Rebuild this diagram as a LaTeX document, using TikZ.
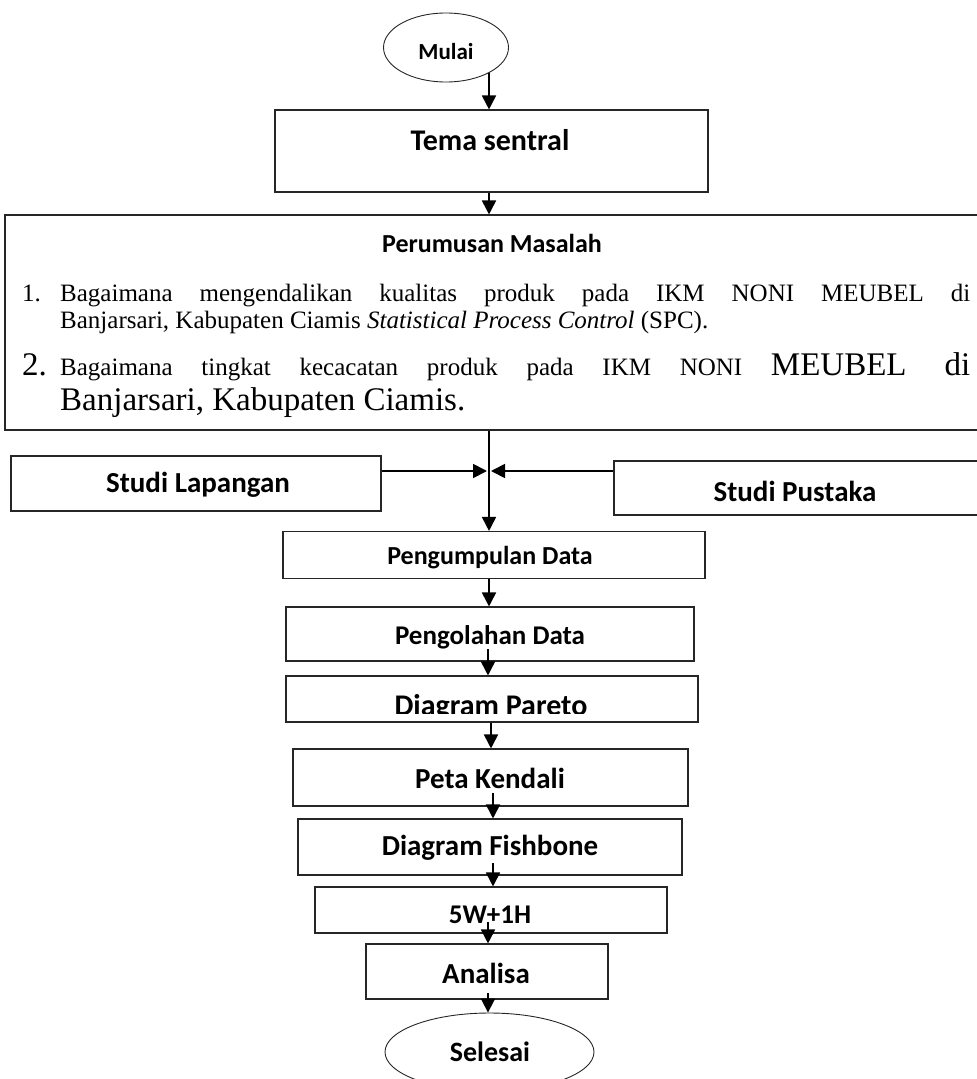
\documentclass[tikz,border=0pt]{standalone}
\usepackage{fontspec}
\setmainfont{Liberation Serif}
\newfontfamily\lab{Carlito}
\usetikzlibrary{arrows.meta,shapes.geometric}
\tikzset{
  boxst/.style={draw=black!85, line width=1.1pt, rectangle, inner sep=0pt},
  ellst/.style={draw=black!85, line width=0.9pt, ellipse, inner sep=0pt},
  arr/.style={-{Triangle[width=14pt,length=14pt]}, line width=1.8pt},
  lbl/.style={font=\lab\bfseries\fontsize{#1}{#1}\selectfont, inner sep=0pt},
  txt/.style={font=\fontsize{#1}{#1}\selectfont, inner sep=0pt, anchor=base west}
}
\begin{document}
\begin{tikzpicture}[x=1pt,y=-1pt]
\useasboundingbox (0,0) rectangle (977,1079);
\clip (0,0) rectangle (977,1079);
% start
\node[ellst, minimum width=125pt, minimum height=69pt] (mulai) at (446,47.5) {};
\node[lbl=23] (mulaitxt) at (446,52) {Mulai};
% tema
\node[boxst, minimum width=433pt, minimum height=82pt] (tema) at (491.5,151) {};
\node[lbl=30] (tematxt) at (490,140) {Tema sentral};
% perumusan
\node[boxst, minimum width=985pt, minimum height=215pt] (perum) at (497.5,322.5) {};
\node[lbl=26] (perumtxt) at (492,243) {Perumusan Masalah};
\node[txt=25] (n1) at (22,301) {1.};
\node[txt=25] (l1) at (60,301) {\makebox[910pt][s]{Bagaimana mengendalikan kualitas produk pada IKM NONI MEUBEL di}};
\node[txt=25] (l2) at (60,328) {Banjarsari, Kabupaten Ciamis \textit{Statistical Process Control} (SPC).};
\node[txt=33] (n2) at (22,375) {2.};
\node[txt=25] (l3) at (60,375) {\makebox[910pt][s]{Bagaimana tingkat kecacatan produk pada IKM NONI {\fontsize{33}{33}\selectfont MEUBEL di}}};
\node[txt=33] (l4) at (60,410) {Banjarsari, Kabupaten Ciamis.};
% studi
\node[boxst, minimum width=370pt, minimum height=55pt] (lap) at (196,483.5) {};
\node[lbl=29] (laptxt) at (198,485) {Studi Lapangan};
\node[boxst, minimum width=376pt, minimum height=54pt] (pus) at (802,488) {};
\node[lbl=29] (pustxt) at (795,491) {Studi Pustaka};
% chain
\node[boxst, minimum width=422pt, minimum height=47pt] (kump) at (494,555) {};
\node[lbl=26] (kumptxt) at (490,558) {Pengumpulan Data};
\node[boxst, minimum width=408pt, minimum height=54pt] (olah) at (490,634) {};
\node[lbl=27] (olahtxt) at (490,637) {Pengolahan Data};
\node[boxst, minimum width=412pt, minimum height=46pt] (pareto) at (492,699) {};
\begin{scope}
\clip (286,676) rectangle (698,713.5);
\node[lbl=30, anchor=base] (paretotxt) at (491,715) {Diagram Pareto};
\end{scope}
\node[boxst, minimum width=395pt, minimum height=57pt] (peta) at (490.5,777.5) {};
\node[lbl=29] (petatxt) at (490,778) {Peta Kendali};
\node[boxst, minimum width=384pt, minimum height=56pt] (fish) at (490,847) {};
\node[lbl=29] (fishtxt) at (490,848) {Diagram Fishbone};
\node[boxst, minimum width=352pt, minimum height=46pt] (w5) at (491,910) {};
\node[lbl=27] (w5txt) at (490,915) {5W+1H};
\node[boxst, minimum width=242pt, minimum height=55pt] (anal) at (487,971.5) {};
\node[lbl=29] (analtxt) at (486,973) {Analisa};
\node[ellst, minimum width=209pt, minimum height=78pt] (sel) at (489.5,1052) {};
\node[lbl=28] (seltxt) at (490,1052) {Selesai};
% connectors
\coordinate (c1) at (489,0);
\draw[arr] (mulai.-30 -| c1) -- (tema.north -| c1);
\draw[arr] (tema.south -| c1) -- (perum.north -| c1);
\coordinate (j) at (489,471);
\draw[arr] (perum.south -| j) -- (kump.north -| j);
\draw[arr, shorten >=2pt] (lap.east |- j) -- (j);
\draw[arr, shorten >=2pt] (pus.west |- j) -- (j);
\draw[arr] (kump.south -| j) -- (olah.north -| j);
\coordinate (a3) at (488,649);
\draw[arr] (a3) -- (a3 |- pareto.north);
\coordinate (a4) at (491,0);
\draw[arr] (pareto.south -| a4) -- (peta.north -| a4);
\coordinate (a5) at (493,793);
\draw[arr] (a5) -- (a5 |- fish.north);
\coordinate (a6) at (493,863);
\draw[arr] (a6) -- (a6 |- w5.north);
\coordinate (a7) at (488,922);
\draw[arr] (a7) -- (a7 |- anal.north);
\coordinate (a8) at (488,993);
\draw[arr] (a8) -- (a8 |- sel.north);
\end{tikzpicture}
\end{document}
